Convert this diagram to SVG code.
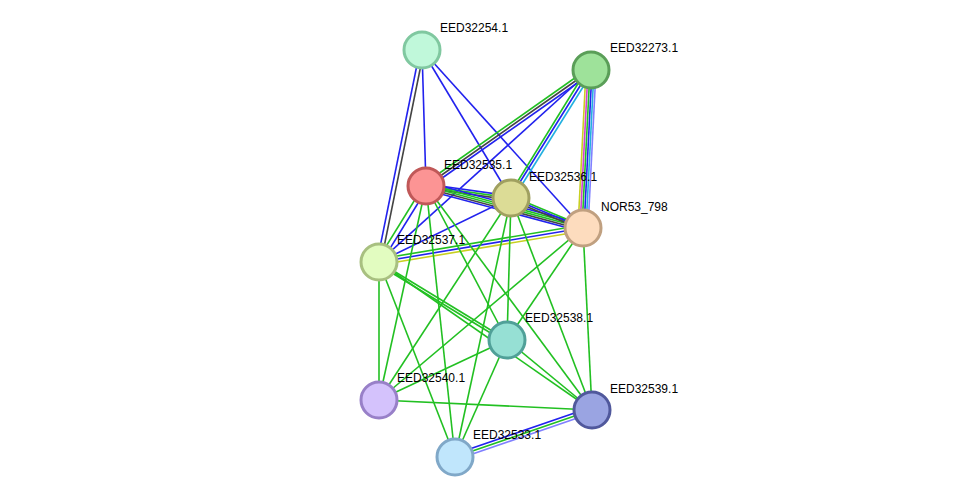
<svg xmlns="http://www.w3.org/2000/svg" width="975" height="502" viewBox="0 0 975 502">
<style>
line{stroke-width:1.6;fill:none}
.g{stroke:#22c022}.b{stroke:#2222ee}.k{stroke:#444}.y{stroke:#c8d020}.c{stroke:#22b0e0}.p{stroke:#d040d0}.v{stroke:#8080ff}
circle{stroke-width:3}
text{font-family:"Liberation Sans",Arial,sans-serif;font-size:12px;fill:#000}
</style>
<rect width="975" height="502" fill="#fff"/>
<g id="connectors">
<line class="b" x1="420" y1="50" x2="377" y2="262"/><line class="k" x1="424" y1="50" x2="381" y2="262"/>
<line class="b" x1="422" y1="50" x2="426" y2="186"/>
<line class="b" x1="422" y1="50" x2="511" y2="198"/>
<line class="b" x1="422" y1="50" x2="583" y2="228"/>
<line class="g" x1="589" y1="68" x2="424" y2="184"/><line class="k" x1="591" y1="70" x2="426" y2="186"/><line class="b" x1="593" y1="72" x2="428" y2="188"/>
<line class="b" x1="590" y1="70" x2="510" y2="198"/><line class="c" x1="593" y1="71" x2="513" y2="199"/><line class="g" x1="587" y1="69" x2="508" y2="197"/>
<line class="y" x1="586" y1="70" x2="578" y2="228"/><line class="p" x1="588" y1="70" x2="580" y2="228"/><line class="g" x1="590" y1="70" x2="582" y2="228"/><line class="b" x1="592" y1="70" x2="584" y2="228"/><line class="c" x1="594" y1="70" x2="586" y2="228"/><line class="v" x1="596" y1="70" x2="588" y2="228"/>
<line class="b" x1="591" y1="70" x2="379" y2="262"/>
<line class="b" x1="426" y1="184" x2="511" y2="196"/><line class="g" x1="426" y1="186" x2="511" y2="198"/><line class="k" x1="426" y1="188" x2="511" y2="200"/>
<line class="b" x1="426" y1="182" x2="583" y2="224"/><line class="g" x1="426" y1="184" x2="583" y2="226"/><line class="g" x1="426" y1="186" x2="583" y2="228"/><line class="k" x1="426" y1="188" x2="583" y2="230"/><line class="b" x1="426" y1="190" x2="583" y2="232"/>
<line class="g" x1="424" y1="185" x2="377" y2="261"/><line class="b" x1="428" y1="187" x2="381" y2="263"/>
<line class="g" x1="511" y1="196" x2="583" y2="226"/><line class="b" x1="511" y1="198" x2="583" y2="228"/><line class="k" x1="511" y1="200" x2="583" y2="230"/>
<line class="b" x1="511" y1="198" x2="379" y2="262"/>
<line class="g" x1="379" y1="259" x2="583" y2="225"/><line class="b" x1="379" y1="262" x2="583" y2="228"/><line class="y" x1="379" y1="265" x2="583" y2="231"/>
<g class="g">
<line x1="426" y1="186" x2="507" y2="340"/><line x1="426" y1="186" x2="592" y2="410"/><line x1="426" y1="186" x2="455" y2="457"/><line x1="426" y1="186" x2="379" y2="400"/>
<line x1="511" y1="198" x2="507" y2="340"/><line x1="511" y1="198" x2="592" y2="410"/><line x1="511" y1="198" x2="455" y2="457"/><line x1="511" y1="198" x2="379" y2="400"/>
<line x1="583" y1="228" x2="507" y2="340"/><line x1="583" y1="228" x2="592" y2="410"/><line x1="583" y1="228" x2="379" y2="400"/>
<line x1="379" y1="262" x2="507" y2="340"/><line x1="379" y1="265" x2="507" y2="343"/><line x1="379" y1="262" x2="592" y2="410"/><line x1="379" y1="262" x2="379" y2="400"/><line x1="379" y1="262" x2="455" y2="457"/>
<line x1="507" y1="340" x2="592" y2="410"/><line x1="507" y1="340" x2="379" y2="400"/><line x1="507" y1="340" x2="455" y2="457"/>
<line x1="379" y1="400" x2="592" y2="410"/>
</g>
<line class="b" x1="455" y1="454" x2="592" y2="407"/><line class="g" x1="455" y1="457" x2="592" y2="410"/><line class="v" x1="455" y1="460" x2="592" y2="413"/>
</g>
<g id="EED32254.1"><circle cx="422" cy="50" r="18" fill="#c0f8da" stroke="#80c8a0"/><text x="440" y="32">EED32254.1</text></g>
<g id="EED32273.1"><circle cx="591" cy="70" r="18" fill="#9ee29a" stroke="#5a9e58"/><text x="610" y="52">EED32273.1</text></g>
<g id="EED32535.1"><circle cx="426" cy="186" r="18" fill="#fc9494" stroke="#c05858"/><text x="444" y="169">EED32535.1</text></g>
<g id="EED32536.1"><circle cx="511" cy="198" r="18" fill="#dcdc96" stroke="#a0a060"/><text x="529" y="181">EED32536.1</text></g>
<g id="NOR53_798"><circle cx="583" cy="228" r="18" fill="#fddcbe" stroke="#c0a080"/><text x="601" y="211">NOR53_798</text></g>
<g id="EED32537.1"><circle cx="379" cy="262" r="18" fill="#e2fcc0" stroke="#a8c080"/><text x="397" y="244">EED32537.1</text></g>
<g id="EED32538.1"><circle cx="507" cy="340" r="18" fill="#96e0d4" stroke="#50a098"/><text x="525" y="322">EED32538.1</text></g>
<g id="EED32540.1"><circle cx="379" cy="400" r="18" fill="#d4c2fc" stroke="#9880c8"/><text x="397" y="382">EED32540.1</text></g>
<g id="EED32539.1"><circle cx="592" cy="410" r="18" fill="#9aa4e2" stroke="#50589c"/><text x="610" y="393">EED32539.1</text></g>
<g id="EED32533.1"><circle cx="455" cy="457" r="18" fill="#c0e6fc" stroke="#80a8c8"/><text x="473" y="439">EED32533.1</text></g>
</svg>
